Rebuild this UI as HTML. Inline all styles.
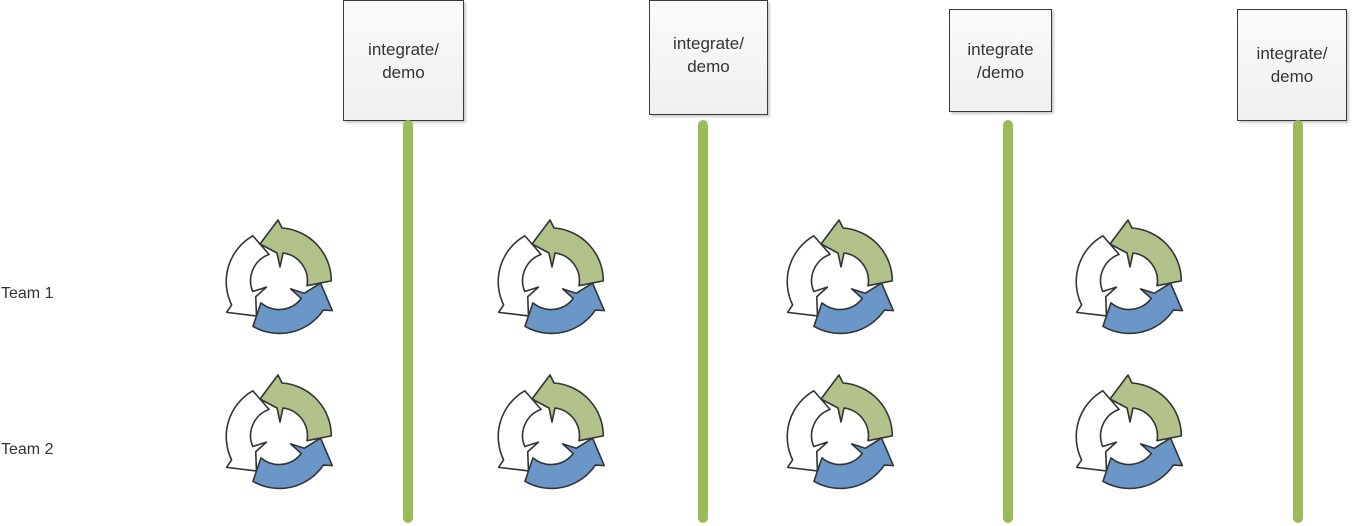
<!DOCTYPE html>
<html><head><meta charset="utf-8"><style>
html,body{margin:0;padding:0;background:#fff;width:1353px;height:526px;overflow:hidden;font-family:"Liberation Sans",sans-serif}
.box{position:absolute;border:1px solid #3a3a3a;background:linear-gradient(#fafafa,#f0f0f0);box-shadow:2px 2px 2px #ccc;display:flex;align-items:center;justify-content:center;text-align:center;font-size:17px;line-height:23px;color:#333;box-sizing:border-box}
.line{position:absolute;width:10px;background:#9bbb59;border-radius:5px;top:120px;height:403px}
.lbl{position:absolute;font-size:16px;color:#333}
</style></head><body>
<div class="box" style="left:343px;top:0;width:121px;height:121px">integrate/<br>demo</div>
<div class="box" style="left:649px;top:0;width:119px;height:115px;padding-bottom:6px">integrate/<br>demo</div>
<div class="box" style="left:949px;top:9px;width:103px;height:103px">integrate<br>/demo</div>
<div class="box" style="left:1237px;top:9px;width:110px;height:112px">integrate/<br>demo</div>
<div class="line" style="left:403px"></div>
<div class="line" style="left:698px"></div>
<div class="line" style="left:1003px"></div>
<div class="line" style="left:1293px"></div>
<div class="lbl" style="left:1px;top:285px">Team 1</div>
<div class="lbl" style="left:1px;top:441px">Team 2</div>
<svg id="s" width="1353" height="526" style="position:absolute;left:0;top:0"></svg>
<script>
var d="M-1,-61 L3,-53 A53,53 0 0 1 52.3,-0.1 L28,4.7 A28,28 0 0 0 4,-28 L1,-14 L-2,-28 L-19,-37 Z";
var icon='<path d="'+d+'" transform="rotate(240)" fill="#fff" stroke="#333" stroke-width="1.6" stroke-linejoin="round"/>'+
'<path d="'+d+'" fill="#b3c18a" stroke="#333" stroke-width="1.6" stroke-linejoin="round"/>'+
'<path d="'+d+'" transform="rotate(120)" fill="#6a96c8" stroke="#333" stroke-width="1.6" stroke-linejoin="round"/>';
var xs=[279,551,840,1129],ys=[281,436],out="";
ys.forEach(function(y){xs.forEach(function(x){out+='<g transform="translate('+x+','+y+')">'+icon+'</g>';});});
document.getElementById("s").innerHTML=out;
</script>
</body></html>
